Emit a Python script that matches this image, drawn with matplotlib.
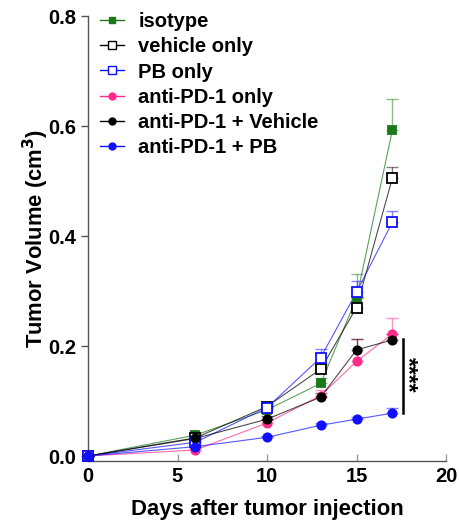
import matplotlib
matplotlib.use("Agg")
import matplotlib.pyplot as plt
import numpy as np

plt.rcParams['font.family'] = ['Liberation Sans', 'DejaVu Sans']

days = [0, 6, 10, 13, 15, 17]
labels = ["isotype", "vehicle only", "PB only", "anti-PD-1 only",
          "anti-PD-1 + Vehicle", "anti-PD-1 + PB"]
isotype = [0.0, 0.038, 0.084, 0.132, 0.287, 0.592]
isotype_err = [0.0, 0.006, 0.008, 0.010, 0.044, 0.058]
vehicle = [0.0, 0.033, 0.090, 0.158, 0.270, 0.505]
vehicle_err = [0.0, 0.005, 0.006, 0.010, 0.020, 0.020]
pb = [0.0, 0.025, 0.088, 0.179, 0.298, 0.425]
pb_err = [0.0, 0.005, 0.006, 0.015, 0.020, 0.020]
apd1 = [0.0, 0.011, 0.060, 0.110, 0.172, 0.222]
apd1_err = [0.0, 0.004, 0.006, 0.010, 0.040, 0.029]
apd1_veh = [0.0, 0.032, 0.067, 0.107, 0.193, 0.211]
apd1_veh_err = [0.0, 0.005, 0.006, 0.008, 0.020, 0.011]
apd1_pb = [0.0, 0.017, 0.034, 0.056, 0.067, 0.078]
apd1_pb_err = [0.0, 0.003, 0.003, 0.004, 0.004, 0.009]

series = [
    (isotype, isotype_err, "#1a7a1a", "s", "#1a7a1a", 6),
    (vehicle, vehicle_err, "black", "s", "white", 7),
    (pb, pb_err, "#1010ff", "s", "white", 7),
    (apd1, apd1_err, "#ff2a8a", "o", "#ff2a8a", 6),
    (apd1_veh, apd1_veh_err, "black", "o", "black", 6),
    (apd1_pb, apd1_pb_err, "#1010ff", "o", "#1010ff", 6),
]

fig = plt.figure(figsize=(4.6, 5.27), dpi=100)
ax = fig.add_axes([0.1913, 0.1252, 0.7783, 0.8444])

handles = []
for (vals, err, col, mk, mfc, ms), lab in zip(series, labels):
    ax.errorbar(days, vals, yerr=[np.zeros(len(err)), err], fmt='none',
                ecolor=col, elinewidth=1.0, capsize=4, capthick=1.0, alpha=0.5)
    ax.plot(days, vals, '-', color=col, lw=0.8, alpha=0.7)
    ax.plot(days, vals, linestyle='none', marker=mk, markersize=ms,
            markerfacecolor=mfc, markeredgecolor=col, markeredgewidth=1.3,
            clip_on=False, zorder=4)
    lh, = ax.plot([], [], '-', color=col, lw=1.0, marker=mk,
                  markersize=ms - 1, markerfacecolor=mfc,
                  markeredgecolor=col, markeredgewidth=1.0)
    handles.append(lh)

ax.set_xlim(0, 20)
ax.set_ylim(-0.0091, 0.8)
ax.set_xticks([0, 5, 10, 15, 20])
ax.set_yticks([0.0, 0.2, 0.4, 0.6, 0.8])
ax.set_yticklabels(["0.0", "0.2", "0.4", "0.6", "0.8"])
for s in ['top', 'right']:
    ax.spines[s].set_visible(False)
for s in ['left', 'bottom']:
    ax.spines[s].set_color('#555555')
    ax.spines[s].set_linewidth(1.0)
ax.tick_params(axis='y', colors='#555555', length=5, width=1.0,
               labelsize=14.5, labelcolor='black', direction='out')
ax.tick_params(axis='x', colors='#999999', length=5, width=1.0,
               labelsize=14.5, labelcolor='black', direction='in', pad=4)
for t in ax.get_xticklabels() + ax.get_yticklabels():
    t.set_fontweight('bold')

ax.set_xlabel("Days after tumor injection", fontsize=15.9, fontweight='bold',
              labelpad=10)
ax.set_ylabel("Tumor Volume (cm$^{\\mathbf{3}}$)", fontsize=15.8,
              fontweight='bold', labelpad=-2)

leg = ax.legend(handles, labels, loc='upper left', bbox_to_anchor=(0.034, 1.009),
                frameon=False, fontsize=14.5, handlelength=1.2, handletextpad=0.7,
                labelspacing=0.31, borderaxespad=0, borderpad=0)
for t in leg.get_texts():
    t.set_fontweight('bold')

# significance bar
ax.plot([17.58, 17.58], [0.078, 0.212], color='black', lw=1.8, clip_on=False)
ax.text(17.87, 0.147, "****", rotation=270, ha='center', va='center',
        fontsize=16.5, fontweight='bold')

fig.savefig("out.png", dpi=100)
